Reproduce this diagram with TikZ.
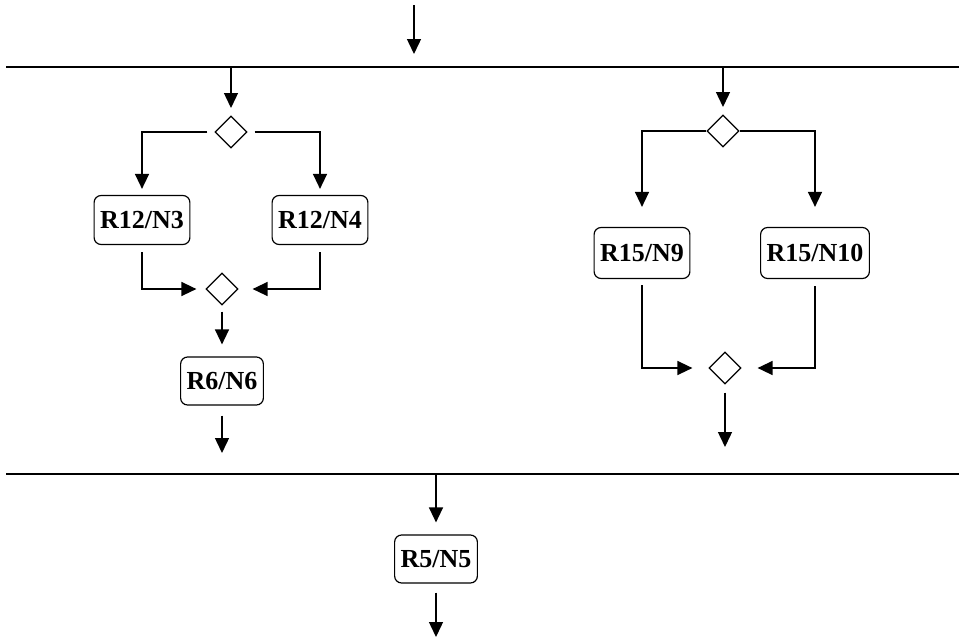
\documentclass[tikz,border=0pt]{standalone}
\usepackage{fontspec}
\setmainfont{Liberation Serif}
\usetikzlibrary{shapes.geometric,arrows.meta}
\begin{document}
\begin{tikzpicture}[x=1pt,y=-1pt,
  every path/.style={line width=1.4pt},
  arr/.style={-{Triangle[length=15pt,width=14pt]}},
  box/.style={draw,rounded corners=7pt,line width=1.2pt,inner xsep=6pt,minimum height=49pt,font=\fontsize{26}{30}\selectfont\bfseries},
  dia/.style={draw,diamond,aspect=1,inner sep=0pt,minimum width=32pt,minimum height=32pt,line width=1.2pt}]
\useasboundingbox (0,0) rectangle (959,638);
% bars
\coordinate (b1l) at (6,67); \coordinate (b1r) at (959,67);
\coordinate (b2l) at (6,474); \coordinate (b2r) at (959,474);
\draw (b1l) -- (b1r);
\draw (b2l) -- (b2r);
% top
\coordinate (t0) at (414,5); \coordinate (t1) at (414,54);
\draw[arr] (t0) -- (t1);
% left block
\node[dia] (d1) at (231,132) {};
\node[box] (n3) at (142,220) {R12/N3};
\node[box] (n4) at (320,220) {R12/N4};
\node[dia] (d2) at (222,289) {};
\node[box,minimum height=48pt] (n6) at (222,381) {R6/N6};
\coordinate (l0) at (231,67); \coordinate (l1) at (231,108);
\draw[arr] (l0) -- (l1);
\draw[arr] ([xshift=-7pt]d1.west) -| ([yshift=6pt]n3.north);
\draw[arr] ([xshift=7pt]d1.east) -| ([yshift=6pt]n4.north);
\draw[arr] ([yshift=-7pt]n3.south) |- ([xshift=-9pt]d2.west);
\draw[arr] ([yshift=-7pt]n4.south) |- ([xshift=14pt]d2.east);
\draw[arr] ([yshift=-6pt]d2.south) -- ([yshift=12pt]n6.north);
\coordinate (l2) at (222,453);
\draw[arr] ([yshift=-10pt]n6.south) -- (l2);
% right block
\node[dia] (d3) at (723,131) {};
\node[box,minimum height=51pt] (n9) at (642,253) {R15/N9};
\node[box,minimum height=51pt] (n10) at (815,253) {R15/N10};
\node[dia] (d4) at (725,368) {};
\coordinate (r0) at (723,67); \coordinate (r1) at (723,107);
\draw[arr] (r0) -- (r1);
\draw[arr] (d3.west) -| ([yshift=20pt]n9.north);
\draw[arr] (d3.east) -| ([yshift=20pt]n10.north);
\draw[arr] ([yshift=-6pt]n9.south) |- ([xshift=-16pt]d4.west);
\draw[arr] ([yshift=-7pt]n10.south) |- ([xshift=16pt]d4.east);
\coordinate (r2) at (725,447);
\draw[arr] ([yshift=-8pt]d4.south) -- (r2);
% bottom
\node[box,minimum height=48pt] (n5) at (436,559) {R5/N5};
\coordinate (m0) at (436,474);
\draw[arr] (m0) -- ([yshift=12pt]n5.north);
\coordinate (m1) at (436,637);
\draw[arr] ([yshift=-9pt]n5.south) -- (m1);
\end{tikzpicture}
\end{document}
